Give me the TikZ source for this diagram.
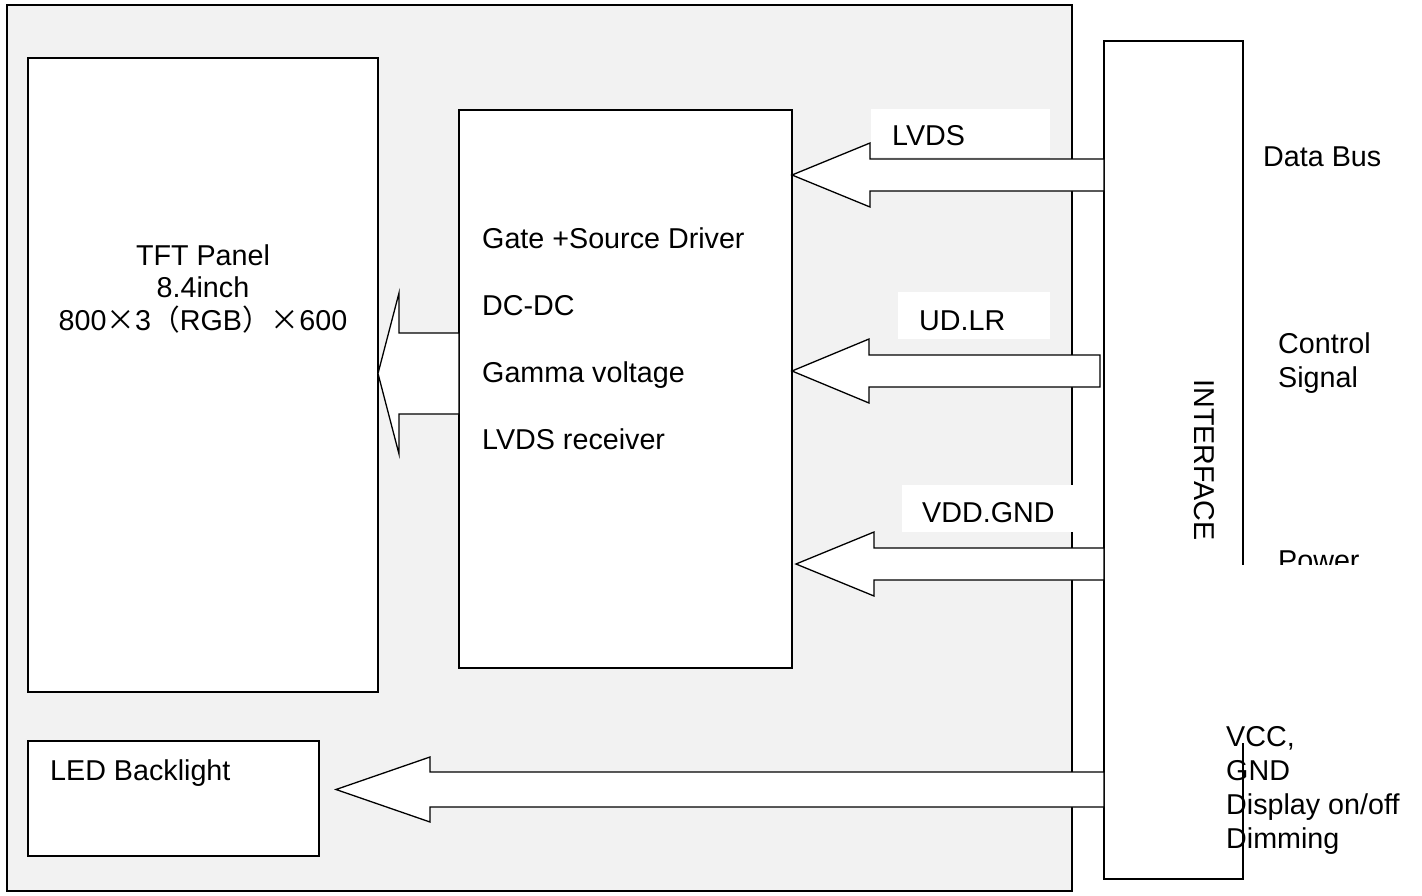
\documentclass[tikz,border=0pt]{standalone}
\usepackage{fontspec}
\setmainfont{Liberation Sans}
\newfontfamily\cjk{Noto Sans CJK SC}
\usetikzlibrary{calc}
\definecolor{modulegrey}{HTML}{F2F2F2}
% wide arrow: tip, tail, head length, head half height, shaft half height
\newcommand{\fatarrow}[5]{%
  \draw[body] (#1) -- ++(#3,-#4) -- ++(0,#4-#5) -- ($(#2)+(0,-#5)$) -- ($(#2)+(0,#5)$)
    -- ($(#1)+(#3,#5)$) -- ++(0,#4-#5) -- cycle;}
\begin{document}
\begin{tikzpicture}[x=1pt, y=-1pt, font={\fontsize{28.7}{33.5}\selectfont},
  box/.style={draw, line width=1.3pt, fill=white, inner sep=0pt, outer sep=0pt, anchor=north west},
  tag/.style={fill=white, inner sep=0pt, outer sep=0pt, anchor=north west},
  txt/.style={inner sep=0pt, anchor=base west, align=left},
  body/.style={draw, line width=1.3pt, fill=white, line join=miter}]
%	\draw[help lines] (0,0) grid[step=100] (1422,895);
	\useasboundingbox (0,0) rectangle (1422,895);
	\node[box, fill=modulegrey, line width=1.5pt, minimum width=1065pt, minimum height=886pt] (module) at (7,5) {};
	\node[box, minimum width=350pt, minimum height=634pt] (panel) at (28,58) {};
	\node[box, minimum width=333pt, minimum height=558pt] (driver) at (459,110) {};
	\node[box, minimum width=291pt, minimum height=115pt] (backlight) at (28,741) {};
	\node[box, minimum width=139pt, minimum height=838pt] (iface) at (1104,41) {};
	% label boxes
	\node[tag, minimum width=179pt, minimum height=48pt] (lvds box) at (871,109) {};
	\node[tag, minimum width=152pt, minimum height=47pt] (udlr box) at (898,292) {};
	\node[tag, minimum width=171pt, minimum height=47pt] (vdd box) at (902,485) {};
	% arrows
	\coordinate (panel tip) at (378,373.5);
	\coordinate (panel tail) at (459,373.5);
	\coordinate (lvds tip) at (792,175);
	\coordinate (lvds tail) at (1104,175);
	\coordinate (udlr tip) at (792,371);
	\coordinate (udlr tail) at (1100,371);
	\coordinate (vdd tip) at (796,564);
	\coordinate (vdd tail) at (1104,564);
	\coordinate (led tip) at (336,789.5);
	\coordinate (led tail) at (1104,789.5);
	\fatarrow{panel tip}{panel tail}{21}{80.5}{40.5}
	\fatarrow{lvds tip}{lvds tail}{78}{32}{16}
	\fatarrow{udlr tip}{udlr tail}{77}{32}{16}
	\fatarrow{vdd tip}{vdd tail}{78}{32}{16}
	\fatarrow{led tip}{led tail}{94}{32.5}{17.5}
	% texts
	\node[inner sep=0pt, align=center, anchor=base, font={\fontsize{28.7}{32.5}\selectfont}] (panel label) at (203,330) {TFT Panel\\8.4inch\\800{\cjk ×}3{\cjk （}RGB{\cjk ）×}600};
	\foreach \t [count=\i] in {Gate +Source Driver, DC-DC, Gamma voltage, LVDS receiver}
		\node[txt] (drv\i) at (482, {248+67.3*(\i-1)}) {\t};
	\node[txt] (backlight label) at (50,780) {LED Backlight};
	\node[txt] (lvds label) at (892,145) {LVDS};
	\node[txt] (udlr label) at (919,330) {UD.LR};
	\node[txt] (vdd label) at (922,522) {VDD.GND};
	\node[inner sep=0pt, rotate=-90] (iface label) at (1204.5,460) {INTERFACE};
	\node[txt] (bus label) at (1263,166) {Data Bus};
	\node[txt, font={\fontsize{28.7}{34}\selectfont}] (ctrl label) at (1278,387) {Control\\Signal};
	\node[txt] (power label) at (1278,570) {Power};
	\fill[white] (1200,565) rectangle (1422,743);
	\node[txt, font={\fontsize{28.7}{33.7}\selectfont}] (vcc label) at (1226,848) {VCC,\\GND\\Display on/off\\Dimming};
\end{tikzpicture}
\end{document}
